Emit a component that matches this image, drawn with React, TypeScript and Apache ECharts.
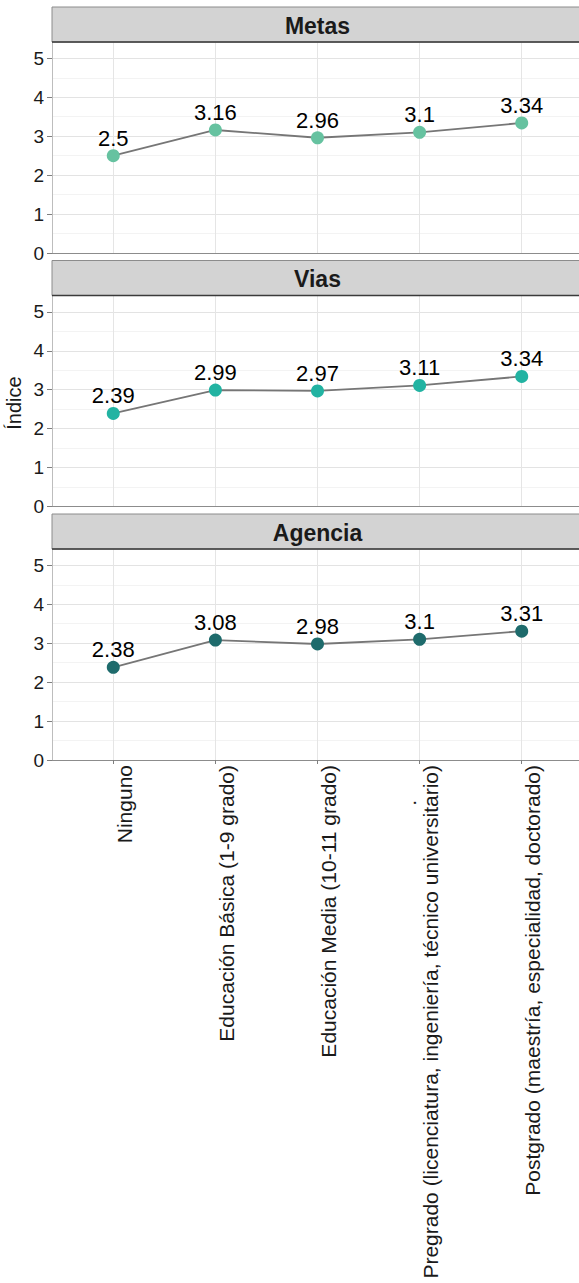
import React, { useEffect, useRef } from 'react';
import * as echarts from 'echarts';

const educationLevels = [
  'Ninguno',
  'Educación Básica (1-9 grado)',
  'Educación Media (10-11 grado)',
  '.\nPregrado (licenciatura, ingeniería, técnico universitario)',
  'Postgrado (maestría, especialidad, doctorado)',
];
const panelNames = ['Metas', 'Vias', 'Agencia'];
const metasValues = [2.5, 3.16, 2.96, 3.1, 3.34];
const viasValues = [2.39, 2.99, 2.97, 3.11, 3.34];
const agenciaValues = [2.38, 3.08, 2.98, 3.1, 3.31];
const yTickValues = [0, 1, 2, 3, 4, 5];
const xTickValues = [0, 1, 2, 3, 4];
const yAxisTitle = 'Índice';

const panelValues = [metasValues, viasValues, agenciaValues];
const panelColors = ['#66C2A0', '#22B3A2', '#1E6B6C'];

const FONT = '"Liberation Sans", Arial, Helvetica, sans-serif';
const LEFT = 52;
const WIDTH = 531;
const PANEL_H = 211;
const TOPS = [42, 295.5, 549];
const STRIP_H = 35;
const NBSP = '\u00a0';

function tickLabel(v: number): string {
  const raw = educationLevels[Math.round(v)];
  if (raw === undefined) return '';
  const lines = raw.split('\n');
  if (lines.length > 1) {
    return lines[0] + NBSP.repeat(6) + '\n' + lines[1];
  }
  return NBSP + '\n' + lines[0];
}

export default function App() {
  const ref = useRef<HTMLDivElement>(null);
  useEffect(() => {
    if (!ref.current) return;
    const chart = echarts.init(ref.current, null, { renderer: 'svg' });

    const grid = TOPS.map((t) => ({
      left: LEFT,
      top: t,
      width: WIDTH,
      height: PANEL_H,
      containLabel: false,
      outerBoundsMode: 'none',
    }));

    const xAxis = TOPS.map((_, i) => ({
      type: 'value',
      gridIndex: i,
      position: 'bottom',
      min: -0.6,
      max: 4.6,
      axisLine: { show: true, onZero: false, lineStyle: { color: '#8C8C8C', width: 1 } },
      axisTick: {
        show: i === 2,
        customValues: xTickValues,
        length: 4,
        lineStyle: { color: '#7F7F7F' },
      },
      axisLabel: {
        show: i === 2,
        customValues: xTickValues,
        rotate: 90,
        align: 'right',
        verticalAlign: 'middle',
        lineHeight: 22,
        padding: [0, 0, 11, 0],
        margin: 5,
        fontSize: 21,
        color: '#1A1A1A',
        fontFamily: FONT,
        hideOverlap: false,
        formatter: (v: number) => tickLabel(v),
      },
      splitLine: { show: true, lineStyle: { color: '#E5E5E5', width: 1 } },
    }));

    const yAxis: any[] = [];
    TOPS.forEach((_, i) => {
      yAxis.push({
        type: 'value',
        gridIndex: i,
        position: 'left',
        min: 0,
        max: 5.42,
        interval: 0.5,
        axisLine: { show: false, onZero: false },
        axisTick: { show: false },
        axisLabel: { show: false },
        splitLine: { show: true, lineStyle: { color: ['#E3E3E3', '#F3F3F3'], width: 1 } },
      });
      yAxis.push({
        type: 'value',
        gridIndex: i,
        position: 'left',
        offset: 0,
        min: 0,
        max: 5.42,
        interval: 1,
        axisLine: { show: true, onZero: false, lineStyle: { color: '#BDBDBD', width: 1 } },
        axisTick: { show: true, customValues: yTickValues, length: 5, lineStyle: { color: '#7F7F7F' } },
        axisLabel: {
          customValues: yTickValues,
          fontSize: 19,
          color: '#1A1A1A',
          margin: 8,
          fontFamily: FONT,
        },
        splitLine: { show: false },
      });
    });

    const series = panelValues.map((vals, i) => ({
      type: 'line',
      name: panelNames[i],
      xAxisIndex: i,
      yAxisIndex: 2 * i + 1,
      data: vals.map((v, j) => [j, v]),
      symbol: 'circle',
      symbolSize: 13,
      itemStyle: { color: panelColors[i] },
      lineStyle: { color: '#767676', width: 1.8 },
      label: {
        show: true,
        position: 'top',
        distance: 0,
        fontSize: 22,
        color: '#000000',
        fontFamily: FONT,
        formatter: (p: any) => String(p.value[1]),
      },
      z: 3,
    }));

    const graphic: any[] = [];
    TOPS.forEach((t, i) => {
      const sy = t - STRIP_H;
      graphic.push({
        type: 'rect',
        z: 10,
        shape: { x: LEFT, y: sy, width: WIDTH + 10, height: STRIP_H },
        style: { fill: '#D3D3D3', stroke: '#8C8C8C', lineWidth: 1 },
      });
      graphic.push({
        type: 'line',
        z: 11,
        shape: { x1: LEFT, y1: t, x2: LEFT + WIDTH + 10, y2: t },
        style: { stroke: '#3A3A3A', lineWidth: 1.5 },
      });
      graphic.push({
        type: 'text',
        z: 12,
        x: LEFT + WIDTH / 2,
        y: sy + STRIP_H / 2 + 1,
        style: {
          text: panelNames[i],
          fontSize: 23,
          fontWeight: 'bold',
          fontFamily: FONT,
          fill: '#1A1A1A',
          align: 'center',
          verticalAlign: 'middle',
        },
      });
    });
    graphic.push({
      type: 'text',
      z: 12,
      x: 14,
      y: 403,
      rotation: Math.PI / 2,
      style: {
        text: yAxisTitle,
        fontSize: 20,
        fontFamily: FONT,
        fill: '#1A1A1A',
        align: 'center',
        verticalAlign: 'middle',
      },
    });

    chart.setOption({
      animation: false,
      backgroundColor: '#FFFFFF',
      grid,
      xAxis,
      yAxis,
      series,
      graphic,
    });
    return () => chart.dispose();
  }, []);

  return (
    <div
      ref={ref}
      style={{ position: 'absolute', left: 0, top: 0, width: 579, height: 1283 }}
    />
  );
}
